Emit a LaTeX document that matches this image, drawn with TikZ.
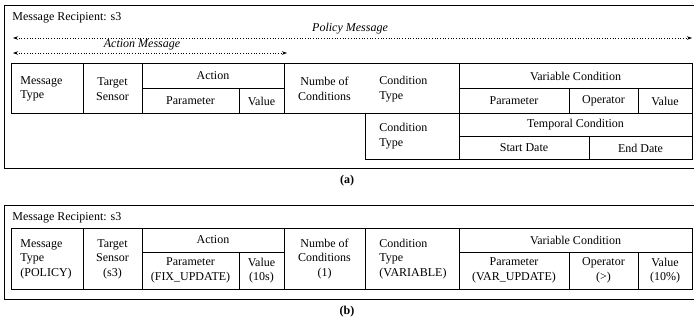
\documentclass[tikz,border=0pt]{standalone}
\usepackage{fontspec}
\setmainfont{Liberation Serif}
\usetikzlibrary{arrows.meta}
\begin{document}
\begin{tikzpicture}[x=1pt,y=-1pt,line width=0.8pt,
  every node/.style={font=\fontsize{12}{14.5}\selectfont,inner sep=0pt,align=center},
  lcell/.style={anchor=west,align=left},
  msg/.style={font=\fontsize{12}{14.5}\selectfont\itshape},
  span/.style={dotted,line width=0.7pt,{Stealth[length=5pt,width=3.5pt]}-{Stealth[length=5pt,width=3.5pt]}}]
  \useasboundingbox (0,0) rectangle (694,325);
  % (a) message layout
  \draw[line width=1pt] (4,5) rectangle (697,168);
  \node[lcell] (recA) at (12,18) {Message Recipient: s3};
  \coordinate (polL) at (13,38);
  \coordinate (polR) at (692,38);
  \draw[span] (polL) -- (polR);
  \node[msg] (polT) at (350,29) {Policy Message};
  \coordinate (actL) at (13,53);
  \coordinate (actR) at (287,53);
  \draw[span] (actL) -- (actR);
  \node[msg] (actT) at (142,45) {Action Message};
  \draw (11,63) rectangle (692,113);
  \draw (365,113) rectangle (692,159);
  \foreach \x in {83,142,284,459} \draw (\x,63) -- (\x,113);
  \foreach \x in {239,569,638} \draw (\x,88) -- (\x,113);
  \draw (142,88) -- (284,88) (459,88) -- (692,88) (459,136) -- (692,136);
  \draw (459,113) -- (459,159) (589,136) -- (589,159);
  \node[lcell] (typA) at (20,89) {Message\\Type};
  \node (senA) at (112.5,89) {Target\\Sensor};
  \node (actA) at (213,76) {Action};
  \node (parA) at (190.5,101) {Parameter};
  \node (valA) at (261.5,101) {Value};
  \node (numA) at (324.5,89) {Numbe of\\Conditions};
  \node[lcell] (ctyA) at (379,89) {Condition\\Type};
  \node (varA) at (575.5,76) {Variable Condition};
  \node (vpaA) at (514,101) {Parameter};
  \node (vopA) at (603.5,101) {Operator};
  \node (vvaA) at (665,101) {Value};
  \node[lcell] (ctyT) at (379,136) {Condition\\Type};
  \node (tmpA) at (575.5,125) {Temporal Condition};
  \node (staA) at (524,148) {Start Date};
  \node (endA) at (640.5,148) {End Date};
  \node[font=\fontsize{12}{14.5}\selectfont\bfseries] (capA) at (347,181) {(a)};
  % (b) filled in example
  \draw[line width=1pt] (4,205) rectangle (697,299);
  \node[lcell] (recB) at (12,218) {Message Recipient: s3};
  \draw (11,228) rectangle (692,289);
  \foreach \x in {83,142,284,365,459} \draw (\x,228) -- (\x,289);
  \foreach \x in {239,569,638} \draw (\x,252) -- (\x,289);
  \draw (142,252) -- (284,252) (459,252) -- (692,252);
  \node[lcell] (typB) at (20,259) {Message\\Type\\(POLICY)};
  \node (senB) at (112.5,259) {Target\\Sensor\\(s3)};
  \node (actB) at (213,240) {Action};
  \node (parB) at (190.5,270.5) {Parameter\\(FIX\_UPDATE)};
  \node (valB) at (261.5,270.5) {Value\\(10s)};
  \node (numB) at (324.5,259) {Numbe of\\Conditions\\(1)};
  \node[lcell] (ctyB) at (379,259) {Condition\\Type\\(VARIABLE)};
  \node (varB) at (575.5,240) {Variable Condition};
  \node (vpaB) at (514,270.5) {Parameter\\(VAR\_UPDATE)};
  \node (vopB) at (603.5,270.5) {Operator\\(>)};
  \node (vvaB) at (665,270.5) {Value\\(10\%)};
  \node[font=\fontsize{12}{14.5}\selectfont\bfseries] (capB) at (347,312) {(b)};
\end{tikzpicture}
\end{document}
